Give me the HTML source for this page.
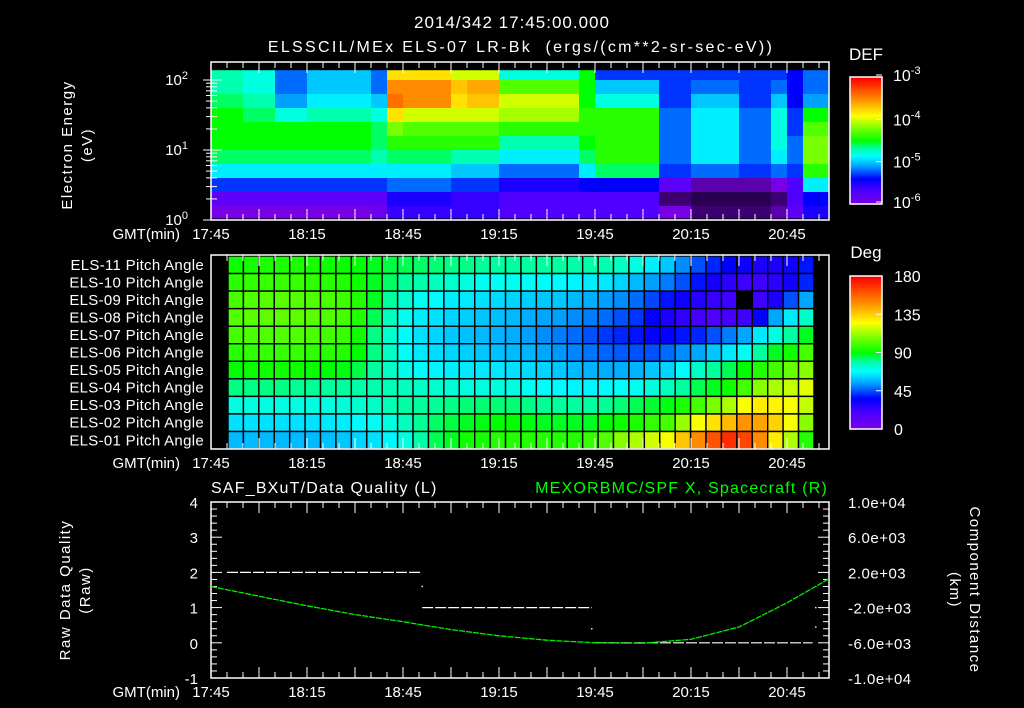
<!DOCTYPE html>
<html><head><meta charset="utf-8"><style>
html,body{margin:0;padding:0;background:#000;}
svg{display:block;font-family:"Liberation Sans",sans-serif;}
text{fill:#fff;font-size:15px;}
</style></head><body>
<svg id="chart" width="1024" height="708" viewBox="0 0 1024 708">
<rect x="0" y="0" width="1024" height="708" fill="#000"/>
<text x="512" y="28" text-anchor="middle" style="font-size:17px;letter-spacing:1px">2014/342 17:45:00.000</text>
<text x="521" y="52" text-anchor="middle" style="font-size:16px;letter-spacing:2.3px" xml:space="preserve">ELSSCIL/MEx ELS-07 LR-Bk  (ergs/(cm**2-sr-sec-eV))</text>
<g id="spec"></g>
<g id="pitch"></g>
<g id="line"></g>
<text transform="translate(72,145) rotate(-90)" text-anchor="middle" style="letter-spacing:1.5px">Electron Energy</text>
<text transform="translate(92,145) rotate(-90)" text-anchor="middle" style="letter-spacing:1.5px">(eV)</text>
<text x="866" y="60" text-anchor="middle" style="font-size:17px">DEF</text>
<text x="866" y="258" text-anchor="middle" style="font-size:17px">Deg</text>
<text x="211" y="493" style="font-size:16px;letter-spacing:1.2px">SAF_BXuT/Data Quality (L)</text>
<text x="828" y="493" text-anchor="end" style="fill:#00ff00;font-size:16px;letter-spacing:1.2px">MEXORBMC/SPF X, Spacecraft (R)</text>
<text transform="translate(70,590) rotate(-90)" text-anchor="middle" style="letter-spacing:1.5px">Raw Data Quality</text>
<text transform="translate(90,590) rotate(-90)" text-anchor="middle" style="letter-spacing:1.5px">(Raw)</text>
<text transform="translate(970,590) rotate(90)" text-anchor="middle" style="letter-spacing:1.5px">Component Distance</text>
<text transform="translate(950,590) rotate(90)" text-anchor="middle" style="letter-spacing:1.5px">(km)</text>
</svg>
<script>
// ---------- shared data ----------
const timeTickLabels = ["17:45","18:15","18:45","19:15","19:45","20:15","20:45"];
const timeTickMinutes = [0,30,60,90,120,150,180];
// spectrogram log10(DEF), rows top (high E) -> bottom (low E), 5-min columns from 17:45
const specEdgesLogE = [2.14,2.0,1.8,1.6,1.4,1.2,1.0,0.8,0.6,0.4,0.2,0.03];
const specRow0 = [-4.7,-4.7,-4.8,-4.8,-5.2,-5.2,-5.0,-5.0,-5.0,-5.0,-5.2,-3.8,-3.8,-3.8,-3.8,-4.0,-4.0,-4.0,-4.8,-4.8,-4.8,-4.8,-4.8,-4.5,-5.3,-5.3,-5.3,-5.3,-5.3,-5.3,-5.3,-5.3,-5.3,-5.3,-5.3,-5.3,-5.4,-5.2,-5.2];
const specRow1 = [-4.7,-4.7,-4.8,-4.8,-5.2,-5.2,-5.0,-5.0,-5.0,-5.0,-5.2,-3.5,-3.5,-3.5,-3.5,-3.7,-3.6,-3.6,-4.3,-4.3,-4.3,-4.3,-4.3,-4.5,-5.0,-5.0,-5.0,-5.0,-5.3,-5.3,-5.2,-5.2,-5.2,-5.3,-5.3,-5.2,-5.4,-5.2,-5.2];
const specRow2 = [-4.6,-4.6,-4.7,-4.7,-5.1,-5.1,-4.9,-4.9,-4.9,-4.9,-5.0,-3.4,-3.5,-3.5,-3.5,-3.8,-3.7,-3.7,-4.0,-4.0,-4.0,-4.0,-4.0,-4.5,-4.8,-4.8,-4.8,-4.8,-5.3,-5.3,-5.0,-5.0,-5.0,-5.3,-5.3,-5.0,-5.4,-5.1,-5.1];
const specRow3 = [-4.5,-4.5,-4.6,-4.6,-4.8,-4.8,-4.7,-4.7,-4.7,-4.7,-4.8,-3.8,-4.0,-4.0,-4.0,-4.0,-4.0,-4.0,-4.1,-4.1,-4.1,-4.1,-4.1,-4.4,-4.4,-4.4,-4.4,-4.4,-5.2,-5.2,-4.9,-4.9,-4.9,-5.2,-5.2,-4.8,-5.3,-4.5,-4.5];
const specRow4 = [-4.5,-4.5,-4.5,-4.5,-4.5,-4.5,-4.5,-4.5,-4.5,-4.5,-4.6,-4.2,-4.3,-4.3,-4.3,-4.3,-4.3,-4.3,-4.4,-4.4,-4.4,-4.4,-4.4,-4.4,-4.4,-4.4,-4.4,-4.4,-5.2,-5.2,-4.9,-4.9,-4.9,-5.2,-5.2,-4.8,-5.3,-4.3,-4.3];
const specRow5 = [-4.5,-4.5,-4.5,-4.5,-4.5,-4.5,-4.5,-4.5,-4.5,-4.5,-4.6,-4.4,-4.4,-4.4,-4.4,-4.4,-4.4,-4.4,-4.7,-4.7,-4.7,-4.7,-4.7,-4.5,-4.4,-4.4,-4.4,-4.4,-5.2,-5.2,-4.9,-4.9,-4.9,-5.2,-5.2,-4.8,-5.2,-4.2,-4.2];
const specRow6 = [-4.6,-4.6,-4.6,-4.6,-4.6,-4.6,-4.6,-4.6,-4.6,-4.6,-4.7,-4.6,-4.6,-4.6,-4.6,-4.7,-4.7,-4.7,-4.9,-4.9,-4.9,-4.9,-4.9,-4.6,-4.4,-4.4,-4.4,-4.4,-5.2,-5.2,-4.9,-4.9,-4.9,-5.2,-5.2,-4.9,-5.2,-4.2,-4.2];
const specRow7 = [-4.9,-4.9,-4.9,-4.9,-4.9,-4.9,-4.9,-4.9,-4.9,-4.9,-4.9,-4.9,-4.9,-4.9,-4.9,-5.0,-5.0,-5.0,-5.2,-5.2,-5.2,-5.2,-5.2,-4.9,-4.6,-4.6,-4.6,-4.6,-5.3,-5.3,-5.2,-5.2,-5.2,-5.3,-5.3,-5.2,-5.3,-4.4,-4.4];
const specRow8 = [-5.3,-5.3,-5.3,-5.3,-5.3,-5.3,-5.3,-5.3,-5.3,-5.3,-5.3,-5.2,-5.2,-5.2,-5.2,-5.3,-5.3,-5.3,-5.5,-5.5,-5.5,-5.5,-5.5,-5.4,-5.4,-5.4,-5.4,-5.4,-5.8,-5.8,-6.1,-6.1,-6.1,-6.1,-6.1,-6.0,-5.7,-4.9,-4.9];
const specRow9 = [-5.8,-5.8,-5.8,-5.8,-5.8,-5.8,-5.8,-5.8,-5.8,-5.8,-5.8,-5.5,-5.5,-5.5,-5.5,-5.6,-5.6,-5.6,-5.7,-5.7,-5.7,-5.7,-5.7,-5.7,-5.7,-5.7,-5.7,-5.7,-6.2,-6.2,-6.3,-6.3,-6.3,-6.3,-6.3,-6.2,-5.7,-5.4,-5.4];
const specRow10 = [-6.0,-6.0,-6.0,-6.0,-6.0,-6.0,-6.0,-6.0,-6.0,-6.0,-5.9,-5.6,-5.6,-5.6,-5.6,-5.6,-5.6,-5.6,-5.7,-5.7,-5.7,-5.7,-5.7,-5.7,-5.7,-5.7,-5.7,-5.7,-6.0,-6.0,-6.2,-6.2,-6.2,-6.2,-6.2,-6.1,-5.8,-5.5,-5.5];
const specRows = [specRow0,specRow1,specRow2,specRow3,specRow4,specRow5,specRow6,specRow7,specRow8,specRow9,specRow10];
const specEnergyTickLabels = ["0","1","2"];
const defTickExps = ["-3","-4","-5","-6"];
const defTickValues = [-3,-4,-5,-6];

// pitch angles (deg), rows top ELS-11 -> bottom ELS-01
const pitchLabels = ["ELS-11","ELS-10","ELS-09","ELS-08","ELS-07","ELS-06","ELS-05","ELS-04","ELS-03","ELS-02","ELS-01"];
const pa11 = [92,93,94,94,94,93,92,91,90,88,86,85,84,83,82,82,81,80,80,80,80,80,79,79,78,76,72,66,60,52,45,40,36,33,30,30,32,38];
const pa10 = [96,97,98,98,98,97,96,95,92,88,84,80,78,76,74,72,70,70,70,69,68,68,67,66,65,62,58,54,50,45,38,32,26,22,22,26,32,40];
const pa09 = [100,102,103,103,103,102,101,99,95,88,80,74,70,68,66,65,64,63,62,61,60,60,58,56,54,52,48,44,38,33,28,24,22,null,22,30,45,55];
const pa08 = [102,103,104,104,104,103,102,100,95,85,76,70,66,64,62,61,60,59,58,56,55,54,52,50,48,45,42,36,30,25,20,18,20,22,35,55,65,75];
const pa07 = [100,101,102,102,102,101,100,98,92,82,74,68,64,62,60,59,58,57,56,54,52,50,48,45,42,40,38,35,35,38,40,45,50,55,65,72,80,88];
const pa06 = [96,97,98,98,98,97,96,95,90,82,75,69,65,63,62,61,60,59,58,57,55,53,51,49,47,46,45,45,48,52,55,60,65,70,80,88,92,100];
const pa05 = [90,91,92,92,92,91,90,89,86,80,75,71,68,67,66,65,65,65,64,63,62,60,58,57,56,56,57,60,62,68,75,80,85,90,95,100,105,110];
const pa04 = [82,82,82,82,81,81,80,80,79,78,77,76,75,74,73,72,72,72,72,70,69,68,67,67,68,69,70,73,76,80,85,88,92,100,110,115,118,122];
const pa03 = [72,72,72,72,72,72,72,73,74,75,77,79,80,81,82,83,83,83,83,82,81,80,80,80,81,83,85,87,89,94,100,108,115,125,130,128,125,118];
const pa02 = [64,64,64,64,64,64,65,66,68,70,72,76,81,84,86,88,89,90,90,89,88,88,88,88,90,92,94,97,100,112,125,132,140,148,145,135,125,110];
const pa01 = [58,58,58,58,58,58,59,60,62,64,67,72,79,85,88,92,93,95,95,95,95,95,95,98,102,110,115,120,125,138,150,162,170,165,150,130,115,95];
const pitchRows = [pa11,pa10,pa09,pa08,pa07,pa06,pa05,pa04,pa03,pa02,pa01];
const degTickLabels = ["180","135","90","45","0"];
const degTickValues = [180,135,90,45,0];

// line panel
const qualityStartMin = [5,66,120];
const qualityEndMin = [66,119,188];
const qualityLevel = [2,1,0];
const qualityDotMin = [66,119,189,189];
const qualityDotVal = [1.6,0.4,1.0,0.45];
const posMinutes = [0,15,30,45,60,75,90,105,120,135,150,165,180,193];
const posKm = [400,-700,-1800,-2800,-3600,-4500,-5200,-5700,-6000,-6050,-5600,-4200,-1450,1250];
const leftTickLabels = ["4","3","2","1","0","-1"];
const leftTickValues = [4,3,2,1,0,-1];
const rightTickLabels = ["1.0e+04","6.0e+03","2.0e+03","-2.0e+03","-6.0e+03","-1.0e+04"];
const rightTickValues = [10000,6000,2000,-2000,-6000,-10000];

// ---------- helpers ----------
const NS = "http://www.w3.org/2000/svg";
const X0 = 211, X1 = 829, PXMIN = 3.2;
function xT(m){ return X0 + m*PXMIN; }
function mk(tag, attrs, parent){ const e=document.createElementNS(NS,tag); for(const k in attrs) e.setAttribute(k,attrs[k]); parent.appendChild(e); return e; }
const stops=[[0,[120,0,230]],[0.1,[80,0,255]],[0.2,[0,0,255]],[0.3,[0,160,255]],[0.38,[0,255,255]],[0.45,[0,255,150]],[0.5,[0,255,0]],[0.6,[120,255,0]],[0.7,[255,255,0]],[0.82,[255,150,0]],[1,[255,0,0]]];
function cmap(t){
  t=Math.max(0,Math.min(1,t));
  for(let i=1;i<stops.length;i++){ if(t<=stops[i][0]){ const a=stops[i-1],b=stops[i]; const f=(t-a[0])/(b[0]-a[0]);
    return "rgb("+a[1].map((v,j)=>Math.round(v+(b[1][j]-v)*f)).join(",")+")"; } }
  return "rgb(255,0,0)";
}
function timeAxis(g, yTop, yBot, labelY, name){
  mk("rect",{x:X0,y:yTop,width:X1-X0,height:yBot-yTop,fill:"none",stroke:"#fff","stroke-width":1.5},g);
  for(let m=0;m<=193;m+=5){
    const x=xT(m), L=(m%15===0)?11:6;
    mk("line",{x1:x,y1:yTop,x2:x,y2:yTop+L,stroke:"#fff","stroke-width":1},g);
    mk("line",{x1:x,y1:yBot,x2:x,y2:yBot-L,stroke:"#fff","stroke-width":1},g);
  }
  const gl=mk("text",{x:180,y:labelY,"text-anchor":"end"},g); gl.textContent="GMT(min)";
  
  
  timeTickLabels.forEach((s,i)=>{ const t=mk("text",{x:xT(timeTickMinutes[i]),y:labelY,"text-anchor":"middle"},g); t.textContent=s;
    
     });
}

// ---------- spectrogram ----------
const sg=document.getElementById("spec");
const yE = le => 220 - 70*le;
specRows.forEach((row,r)=>{
  row.forEach((v,c)=>{
    const x=xT(c*5), w=Math.min(xT(c*5+5),X1)-x;
    let col=cmap((v+6)/3);
    if(v<-6){ const k=Math.max(0.35,1-(-6-v)*2.5); col="rgb("+Math.round(120*k)+",0,"+Math.round(230*k)+")"; }
    const el=mk("rect",{x:x,y:yE(specEdgesLogE[r]),width:w+0.5,height:yE(specEdgesLogE[r+1])-yE(specEdgesLogE[r])+0.5,fill:col},sg);
    
    
  });
});
timeAxis(sg,62,220,239,"spectrogram");
for(let d=0; d<=2; d++){
  for(let k=1;k<=9;k++){ const le=d+Math.log10(k); if(le>2.26) break; const y=yE(le);
    mk("line",{x1:X0,y1:y,x2:X0+(k===1?11:6),y2:y,stroke:"#fff"},sg);
    mk("line",{x1:X0,y1:y,x2:X0-(k===1?8:5),y2:y,stroke:"#fff"},sg); }
}
specEnergyTickLabels.forEach((s,i)=>{ const t=mk("text",{x:188,y:yE(+s)+5,"text-anchor":"end"},sg); t.textContent="10";
  const sp=mk("tspan",{dy:-6,"font-size":"11"},t); sp.textContent=s;
  
   });
const cbTop=77, cbBot=204;
for(let i=0;i<128;i++){ const t=i/127; const el=mk("rect",{x:850,y:cbBot-(i+1)*(cbBot-cbTop)/128,width:32,height:(cbBot-cbTop)/128+0.6,fill:cmap(t)},sg);
  
   }
mk("rect",{x:850,y:cbTop,width:32,height:cbBot-cbTop,fill:"none",stroke:"#fff","stroke-width":1.5},sg);
defTickValues.forEach((v,i)=>{ const y=cbBot-(v+6)/3*(cbBot-cbTop)+ (v===-3?-2:(v===-6?-2:0));
  mk("line",{x1:876,y1:y,x2:882,y2:y,stroke:"#fff"},sg);
  const t=mk("text",{x:893,y:y+6,style:"font-size:16px"},sg); t.textContent="10";
  const sp=mk("tspan",{dy:-7,"font-size":"11"},t); sp.textContent=defTickExps[i];
  
   });

// ---------- pitch angle ----------
const pg=document.getElementById("pitch");
const pTop=256, rowH=17.55, colW=15.42, pX0=228;
pitchRows.forEach((row,r)=>{
  row.forEach((v,c)=>{
    const el=mk("rect",{x:pX0+c*colW,y:pTop+r*rowH,width:colW,height:rowH,fill:v===null?"#000":cmap(v/180),stroke:"#000","stroke-width":1.4},pg);
    
    
  });
  const t=mk("text",{x:204,y:pTop+(r+0.5)*rowH+5,"text-anchor":"end",style:"letter-spacing:0.3px"},pg); t.textContent=pitchLabels[r]+" Pitch Angle";
  
  
});
timeAxis(pg,255,449,468,"pitch");
const dTop=276, dBot=429;
for(let i=0;i<128;i++){ const t=i/127; const el=mk("rect",{x:850,y:dBot-(i+1)*(dBot-dTop)/128,width:32,height:(dBot-dTop)/128+0.6,fill:cmap(t)},pg);
  
   }
mk("rect",{x:850,y:dTop,width:32,height:dBot-dTop,fill:"none",stroke:"#fff","stroke-width":1.5},pg);
degTickValues.forEach((v,i)=>{ const y=dBot-v/180*(dBot-dTop);
  mk("line",{x1:876,y1:y,x2:882,y2:y,stroke:"#fff"},pg);
  const t=mk("text",{x:894,y:y+6,style:"font-size:16px"},pg); t.textContent=degTickLabels[i];
  
   });

// ---------- line panel ----------
const lg=document.getElementById("line");
const lTop=502, lBot=678;
const yL = v => lBot - (v+1)/5*(lBot-lTop);
const yR = v => lBot - (v+10000)/20000*(lBot-lTop);
timeAxis(lg,lTop,lBot,697,"line");
for(let v=-1; v<=4.001; v+=0.2){ const y=yL(v); const maj=Math.abs(v-Math.round(v))<0.01;
  mk("line",{x1:X0,y1:y,x2:X0+(maj?11:6),y2:y,stroke:"#fff"},lg);
  mk("line",{x1:X1,y1:y,x2:X1-(maj?11:6),y2:y,stroke:"#fff"},lg); }
leftTickLabels.forEach((s,i)=>{ const t=mk("text",{x:198,y:yL(leftTickValues[i])+6,"text-anchor":"end"},lg); t.textContent=s;
  
   });
rightTickLabels.forEach((s,i)=>{ const t=mk("text",{x:848,y:yR(rightTickValues[i])+6,style:"letter-spacing:0.5px"},lg); t.textContent=s;
  
   });
qualityLevel.forEach((q,i)=>{ const el=mk("line",{x1:xT(qualityStartMin[i]),y1:yL(q),x2:xT(qualityEndMin[i]),y2:yL(q),stroke:"#fff","stroke-width":1.2,"stroke-dasharray":"11 2"},lg);
  
   });
qualityDotMin.forEach((m,i)=>{ const el=mk("rect",{x:xT(m)-0.7,y:yL(qualityDotVal[i])-0.7,width:1.4,height:1.4,fill:"#fff"},lg);
  
   });
const pts=posMinutes.map((m,i)=>xT(m).toFixed(1)+","+yR(posKm[i]).toFixed(1)).join(" ");
const pl=mk("polyline",{points:pts,fill:"none",stroke:"#00ee00","stroke-width":1.3,"stroke-dasharray":"6 1","stroke-linejoin":"round"},lg);


</script>
</body></html>
